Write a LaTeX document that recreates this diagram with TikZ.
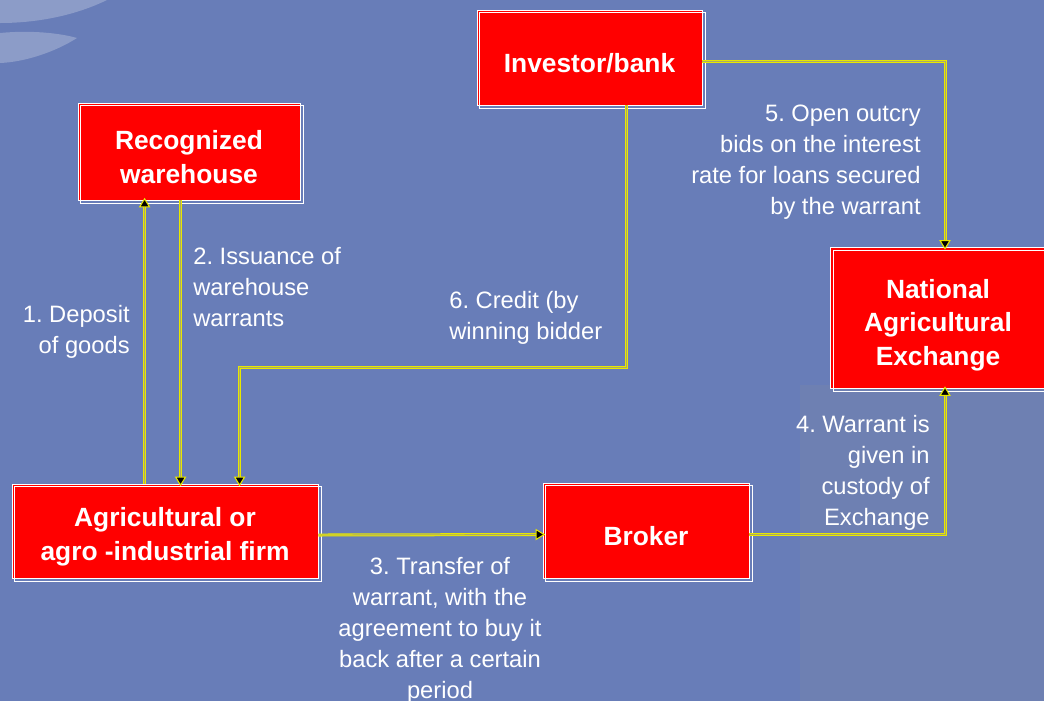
\documentclass[tikz,border=0pt]{standalone}
\usepackage{fontspec}
\setmainfont{Liberation Sans}
\usetikzlibrary{arrows.meta,calc}
\frenchspacing

\definecolor{bgblue}{RGB}{104,125,184}
\definecolor{bgband}{RGB}{110,128,178}
\definecolor{swoosh}{RGB}{140,156,200}
\definecolor{boxred}{RGB}{255,0,0}
\definecolor{linkyellow}{RGB}{232,232,0}
\definecolor{linkcore}{RGB}{170,170,105}

% pushes box text a little down
\newcommand\boxstrut{\rule{0pt}{17.5pt}}

\begin{document}
\begin{tikzpicture}[
  x=0.02cm, y=-0.02cm,
  >={Triangle[length=5.5pt,width=6.5pt,fill=black,color=linkyellow,line width=0.6pt]},
  box/.style={
    draw=white,
    fill=boxred,
    text=white,
    align=center,
    inner sep=4pt,
    line width=0.5pt,
    font=\fontsize{15}{19.3}\selectfont\bfseries
  },
  lbl/.style={
    text=white,
    inner sep=0pt,
    font=\fontsize{13.5}{17.6}\selectfont
  },
  link/.style={
    ->,
    shorten >=-1.5pt,
    draw=linkyellow,
    line width=1.7pt,
    postaction={draw=linkcore, line width=0.5pt, -, shorten >=4pt}
  }
]

% fixed frame and background
\useasboundingbox (0,0) rectangle (1044,701);
\clip (0,0) rectangle (1044,701);
\fill[bgblue] (0,0) rectangle (1044,701);
\fill[bgband] (800,385) rectangle (1044,701);
\fill[swoosh] (0,0) -- (107,0) .. controls (70,18) and (30,23) .. (0,23) -- cycle;
\fill[swoosh] (0,33) .. controls (30,30) and (60,33) .. (77,38)
  .. controls (55,52) and (25,62) .. (0,63) -- cycle;

% boxes
\node[box, minimum width=4.5cm, minimum height=1.9cm] (inv) at (589.5,57.5)
  {\boxstrut Investor/bank};
\node[box, minimum width=4.44cm, minimum height=1.94cm] (ware) at (189,151.5)
  {\boxstrut Recognized\\warehouse};
\node[box, minimum width=4.3cm, minimum height=2.82cm] (nae) at (938,318)
  {\rule{0pt}{19pt}National\\Agricultural\\Exchange};
\node[box, minimum width=6.12cm, minimum height=1.88cm] (firm) at (165,531)
  {\boxstrut Agricultural or\\agro -industrial firm};
\node[box, minimum width=4.12cm, minimum height=1.9cm] (brk) at (646,530.5)
  {\boxstrut Broker};

% offset outlines
\foreach \n in {inv,ware,nae,firm,brk}
  \draw[white, line width=0.5pt]
    ($(\n.north west)+(3,3)$) rectangle ($(\n.south east)+(3,3)$);

% connectors
\draw[link] ($(firm.north west)+(133,0)$) coordinate (d1) -- (d1 |- ware.south);
\draw[link] ($(ware.south west)+(103,0)$) coordinate (d2) -- (d2 |- firm.north);
\draw[link] ($(firm.east)+(0,4)$) -- ($(brk.west)+(0,4)$);
\draw[link] ($(brk.east)+(0,4)$) -| ($(nae.south)+(7,0)$);
\draw[link] ($(inv.east)+(0,4)$) -| ($(nae.north)+(7,0)$);
\draw[link] ($(inv.south west)+(150,0)$) |- ($(firm.north west)+(228,-116)$)
  coordinate (d6) -- (d6 |- firm.north);

% labels
\node[lbl, anchor=east, align=right] (t1) at (130,332)
  {1. Deposit\\of goods};
\node[lbl, anchor=west, align=left] (t2) at (193,287)
  {2. Issuance of\\warehouse\\warrants};
\node[lbl, align=center] (t3) at (440,630.5)
  {3. Transfer of\\warrant, with the\\agreement to buy it\\back after a certain\\period};
\node[lbl, anchor=east, align=right] (t4) at (930,473)
  {4. Warrant is\\given in\\custody of\\Exchange};
\node[lbl, anchor=east, align=right] (t5) at (921,162.5)
  {5. Open outcry\\bids on the interest\\rate for loans secured\\by the warrant};
\node[lbl, anchor=west, align=left] (t6) at (449,317.5)
  {6. Credit (by\\winning bidder};

\end{tikzpicture}
\end{document}
